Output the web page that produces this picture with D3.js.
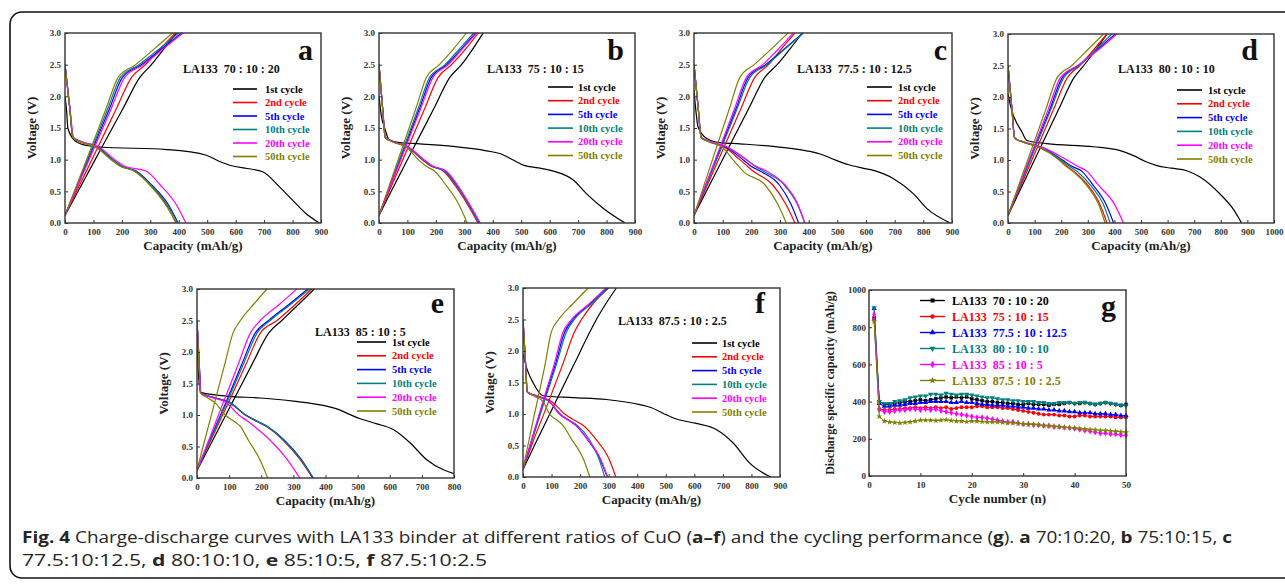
<!DOCTYPE html>
<html><head><meta charset="utf-8">
<script src="https://cdn.jsdelivr.net/npm/d3@7"></script>
<style>
body{margin:0;background:#fff}
svg{display:block}
</style>
</head><body>
<svg id="c" width="1285" height="586"></svg>
<script>
// ---------------- DATA ----------------
const cycleNames = ["1st cycle","2nd cycle","5th cycle","10th cycle","20th cycle","50th cycle"];
const cycleColors = ["#000000","#ff0000","#0000ff","#008080","#ff00ff","#808000"];
const voltTicks = [0,0.5,1.0,1.5,2.0,2.5,3.0];
// voltage levels at which capacities were read
const chargeLevels = [0.12,0.5,1.2,1.8,2.3,2.5,2.75,3.0];
const dischargeLevels = [2.5,1.8,1.35,1.28,1.2,1.0,0.9,0.82,0.6,0.3,0.0];

// panel a : 70:10:20
const firstDisA = [[0,2.0],[6,1.75],[10,1.5],[35,1.3],[80,1.22],[125,1.2],[357,1.16],[497,1.07],[540,0.98],[590,0.9],[640,0.86],[695,0.81],[754,0.57],[800,0.36],[847,0.15],[894,0.0]];
const disA = [ // 2nd,5th,10th,20th,50th : capacity at dischargeLevels
  [0,17,28,55,110,165,195,245,300,355,390],
  [0,17,28,60,115,168,198,250,305,362,398],
  [0,17,28,58,112,166,196,248,302,358,396],
  [0,18,30,62,120,175,208,285,335,390,425],
  [0,17,28,55,108,162,192,242,298,352,392]];
const chgA = [ // 1st..50th : capacity at chargeLevels
  [0,46,130,203,263,304,348,392],
  [0,41,116,180,234,283,335,388],
  [0,35,100,156,202,268,340,410],
  [0,34,97,150,195,260,332,400],
  [0,37,104,162,210,275,345,415],
  [0,33,93,144,187,248,314,378]];

// panel b : 75:10:15
const firstDisB = [[0,2.0],[8,1.7],[20,1.5],[35,1.32],[73,1.27],[143,1.25],[260,1.21],[378,1.14],[430,1.09],[470,1.0],[510,0.91],[560,0.87],[613,0.82],[683,0.68],[730,0.46],[789,0.23],[865,0.0]];
const disB = [
  [0,13,22,50,100,152,182,226,266,310,348],
  [0,13,22,52,102,156,186,232,272,315,352],
  [0,13,22,52,101,155,185,230,270,314,350],
  [0,13,22,54,104,158,188,236,276,318,356],
  [0,13,22,48,96,138,165,195,235,280,310]];
const chgB = [
  [0,43,123,192,249,290,330,366],
  [0,36,103,160,208,255,305,349],
  [0,32,91,142,184,238,290,340],
  [0,31,88,137,178,232,283,333],
  [0,33,94,146,190,244,293,343],
  [0,29,83,129,167,212,262,307]];

// panel c : 77.5:10:12.5
const firstDisC = [[0,2.1],[6,1.8],[14,1.52],[43,1.34],[90,1.27],[160,1.25],[276,1.21],[393,1.14],[440,1.09],[490,1.0],[540,0.92],[585,0.87],[626,0.83],[696,0.7],[766,0.46],[812,0.23],[894,0.0]];
const disC = [
  [0,15,25,55,105,160,185,206,275,320,352],
  [0,15,25,58,110,171,198,230,298,338,365],
  [0,15,25,60,115,183,212,241,315,360,387],
  [0,15,25,60,116,183,214,253,318,362,386],
  [0,15,25,52,98,136,155,171,248,292,322]];
const chgC = [
  [0,43,122,190,247,290,335,378],
  [0,37,105,163,212,260,305,352],
  [0,33,94,146,189,250,315,380],
  [0,34,97,150,195,255,318,382],
  [0,32,91,141,183,240,295,346],
  [0,28,79,123,160,210,270,328]];

// panel d : 80:10:10
const firstDisD = [[0,2.05],[10,1.85],[53,1.44],[71,1.31],[146,1.26],[322,1.21],[422,1.15],[472,1.07],[515,0.98],[560,0.91],[615,0.87],[672,0.83],[722,0.73],[797,0.46],[847,0.22],[878,0.0]];
const disD = [
  [0,15,25,60,120,196,222,247,300,345,372],
  [0,15,25,62,125,205,240,278,320,368,397],
  [0,15,25,62,122,200,232,259,310,358,384],
  [0,15,25,65,130,221,262,297,340,400,434],
  [0,15,25,60,118,192,218,244,295,340,365]];
const chgD = [
  [0,43,122,190,247,285,330,372],
  [0,39,110,171,222,270,322,372],
  [0,35,100,157,203,265,335,403],
  [0,36,103,161,209,268,330,390],
  [0,34,97,151,196,262,340,409],
  [0,32,91,142,184,240,300,359]];

// panel e : 85:10:5
const firstDisE = [[0,2.2],[5,1.6],[12,1.36],[93,1.3],[197,1.27],[300,1.22],[404,1.14],[440,1.09],[475,1.01],[508,0.94],[560,0.86],[611,0.77],[663,0.56],[715,0.29],[767,0.13],[800,0.07]];
const disE = [
  [0,7,12,50,100,150,185,215,268,320,360],
  [0,7,12,50,102,152,188,218,272,324,362],
  [0,7,12,50,101,151,187,217,270,322,362],
  [0,7,12,45,90,130,158,178,228,280,320],
  [0,6,10,30,55,88,115,135,160,195,220]];
const chgE = [
  [0,39,110,171,223,264,315,365],
  [0,34,98,152,197,249,305,357],
  [0,31,90,139,181,223,285,345],
  [0,32,93,144,187,228,290,350],
  [0,29,82,128,166,197,255,311],
  [0,19,55,86,112,135,175,218]];

// panel f : 87.5:10:2.5
const firstDisF = [[0,1.95],[15,1.7],[35,1.5],[70,1.29],[175,1.26],[292,1.23],[409,1.15],[450,1.1],[495,1.0],[537,0.92],[607,0.85],[678,0.75],[736,0.54],[794,0.22],[866,0.0]];
const disF = [
  [0,9,15,55,100,146,180,210,255,300,325],
  [0,9,15,50,92,128,160,185,225,268,295],
  [0,9,15,50,92,130,162,190,232,265,286],
  [0,9,15,50,92,128,160,186,225,270,296],
  [0,9,15,40,70,93,120,140,170,210,234]];
const chgF = [
  [0,40,115,180,234,257,290,327],
  [0,30,90,140,180,205,245,300],
  [0,25,72,114,146,175,235,295],
  [0,26,75,118,152,180,240,298],
  [0,24,70,110,140,170,232,290],
  [0,17,50,78,99,125,175,228]];

// panel g : cycling performance (cycle 1..50)
const ratioNames = ["LA133  70 : 10 : 20","LA133  75 : 10 : 15","LA133  77.5 : 10 : 12.5","LA133  80 : 10 : 10","LA133  85 : 10 : 5","LA133  87.5 : 10 : 2.5"];
const cap70 = [850,400,385,385,390,395,400,400,405,410,405,410,415,420,425,420,425,420,425,415,410,405,400,400,395,395,390,390,385,385,390,385,385,385,380,385,385,390,395,390,390,395,390,385,390,395,390,385,380,385];
const cap75 = [840,360,355,355,360,360,365,365,370,365,370,365,370,365,370,360,365,370,370,370,375,375,370,370,370,365,365,360,355,350,345,340,335,330,330,330,325,325,320,320,325,325,320,320,320,320,320,315,315,315];
const cap775 = [900,390,375,375,380,380,385,390,390,395,395,400,400,400,400,395,395,400,395,395,390,385,385,380,380,380,375,375,370,370,365,365,360,360,355,355,350,350,345,345,340,340,340,335,335,335,330,330,325,325];
const cap80 = [905,400,390,390,400,405,410,420,425,430,430,440,440,435,445,440,435,440,440,435,430,425,420,420,415,410,410,405,405,400,400,400,395,395,390,390,395,395,395,390,395,395,390,385,390,395,390,385,380,378];
const cap85 = [870,355,345,345,350,355,355,360,360,355,360,355,360,350,345,340,335,330,325,320,315,315,310,305,300,295,290,290,285,280,280,275,275,270,270,265,265,260,260,255,250,245,240,235,230,230,225,225,220,218];
const cap875 = [830,320,295,290,288,285,288,290,295,300,300,300,298,300,302,298,295,295,292,295,295,292,290,290,290,288,285,285,282,280,278,278,275,272,270,268,265,262,260,258,255,252,250,248,245,245,242,240,238,235];
const gSeries = [cap70,cap75,cap775,cap80,cap85,cap875];
const gTicksX = [0,10,20,30,40,50];
const gTicksY = [0,200,400,600,800,1000];

// ---------------- LAYOUT ----------------
const SERIF = '"Liberation Serif","Times New Roman",serif';
const svg = d3.select('#c');

svg.append('rect').attr('x',10).attr('y',12).attr('width',1300).attr('height',566)
  .attr('rx',12).attr('fill','none').attr('stroke','#111').attr('stroke-width',1.6);

const panels = [
  {id:'a',x0:65,x1:321,y0:33,y1:223,xmax:900,title:'LA133  70 : 10 : 20',tx:183,ty:73,lx0:233,lx1:257,ltx:265,ly:89,ls:13.5,lab:313,laby:60,first:firstDisA,dis:disA,chg:chgA},
  {id:'b',x0:379,x1:635,y0:33,y1:223,xmax:900,title:'LA133  75 : 10 : 15',tx:487,ty:73,lx0:548,lx1:573,ltx:578,ly:87,ls:13.7,lab:624,laby:60,first:firstDisB,dis:disB,chg:chgB},
  {id:'c',x0:694,x1:952,y0:33,y1:223,xmax:900,title:'LA133  77.5 : 10 : 12.5',tx:797,ty:73,lx0:867,lx1:892,ltx:898,ly:87,ls:13.7,lab:947,laby:60,first:firstDisC,dis:disC,chg:chgC},
  {id:'d',x0:1008,x1:1274,y0:34,y1:223,xmax:1000,title:'LA133  80 : 10 : 10',tx:1118,ty:73,lx0:1177,lx1:1202,ltx:1208,ly:90,ls:13.8,lab:1258,laby:60,first:firstDisD,dis:disD,chg:chgD},
  {id:'e',x0:197,x1:454,y0:289,y1:478,xmax:800,title:'LA133  85 : 10 : 5',tx:315,ty:336,lx0:357,lx1:386,ltx:392,ly:342,ls:13.8,lab:444,laby:313,first:firstDisE,dis:disE,chg:chgE},
  {id:'f',x0:523,x1:780,y0:288,y1:477,xmax:900,title:'LA133  87.5 : 10 : 2.5',tx:618,ty:325,lx0:692,lx1:717,ltx:722,ly:343,ls:13.8,lab:765,laby:313,first:firstDisF,dis:disF,chg:chgF}
];

function styleAxis(g){
  g.attr('font-family',SERIF).attr('font-size',9).attr('font-weight','bold');
  g.select('.domain').remove();
  g.selectAll('.tick line').attr('stroke','#333').attr('stroke-width',1);
  g.selectAll('.tick text').attr('fill','#333');
}

function frame(p){
  svg.append('rect').attr('x',p.x0).attr('y',p.y0).attr('width',p.x1-p.x0).attr('height',p.y1-p.y0)
    .attr('fill','none').attr('stroke','#333').attr('stroke-width',1.4);
}

panels.forEach((p,pi)=>{
  const x = d3.scaleLinear().domain([0,p.xmax]).range([p.x0,p.x1]);
  const y = d3.scaleLinear().domain([0,3]).range([p.y1,p.y0]);
  const clipId = 'clip'+p.id;
  svg.append('clipPath').attr('id',clipId).append('rect')
    .attr('x',p.x0).attr('y',p.y0-1).attr('width',p.x1-p.x0).attr('height',p.y1-p.y0+1);
  const line = d3.line().x(d=>x(d[0])).y(d=>y(d[1])).curve(d3.curveMonotoneX);
  const gl = svg.append('g').attr('clip-path',`url(#${clipId})`);
  for(let i=0;i<6;i++){
    const chgPts = chargeLevels.map((v,j)=>[p.chg[i][j],v]);
    const disPts = i===0 ? p.first : dischargeLevels.map((v,j)=>[p.dis[i-1][j],v]);
    [chgPts,disPts].forEach(pts=>{
      gl.append('path').attr('d',line(pts)).attr('fill','none')
        .attr('stroke',cycleColors[i]).attr('stroke-width',1.2);
    });
  }
  frame(p);
  const xt = d3.range(0,p.xmax+1,100);
  svg.append('g').attr('transform',`translate(0,${p.y1})`)
    .call(d3.axisBottom(x).tickValues(xt).tickSizeInner(-3).tickSizeOuter(0).tickPadding(6).tickFormat(d3.format('d')))
    .call(styleAxis);
  svg.append('g').attr('transform',`translate(${p.x0},0)`)
    .call(d3.axisLeft(y).tickValues(voltTicks).tickSizeInner(-3).tickSizeOuter(0).tickPadding(4).tickFormat(d3.format('.1f')))
    .call(styleAxis);
  svg.append('text').attr('x',(p.x0+p.x1)/2).attr('y',p.y1+27).attr('text-anchor','middle')
    .attr('font-family',SERIF).attr('font-weight','bold').attr('font-size',13).attr('fill','#222')
    .text('Capacity (mAh/g)');
  svg.append('text').attr('transform',`translate(${p.x0-29},${(p.y0+p.y1)/2}) rotate(-90)`)
    .attr('text-anchor','middle').attr('font-family',SERIF).attr('font-weight','bold').attr('font-size',13).attr('fill','#222')
    .text('Voltage (V)');
  svg.append('text').attr('x',p.tx).attr('y',p.ty).attr('font-family',SERIF).attr('font-weight','bold')
    .attr('font-size',12).attr('fill','#111').style('white-space','pre').text(p.title);
  svg.append('text').attr('x',p.lab).attr('y',p.laby).attr('text-anchor','end').attr('font-family',SERIF)
    .attr('font-weight','bold').attr('font-size',30).attr('fill','#111').text(p.id);
  cycleNames.forEach((n,i)=>{
    const yy = p.ly + i*p.ls;
    svg.append('line').attr('x1',p.lx0).attr('x2',p.lx1).attr('y1',yy).attr('y2',yy)
      .attr('stroke',cycleColors[i]).attr('stroke-width',1.6);
    svg.append('text').attr('x',p.ltx).attr('y',yy).attr('dy','0.35em').attr('font-family',SERIF)
      .attr('font-weight','bold').attr('font-size',10.5).attr('fill',cycleColors[i]).text(n);
  });
});

// ---------------- PANEL g ----------------
(function(){
  const p = {x0:869,x1:1126,y0:290,y1:476};
  const x = d3.scaleLinear().domain([0,50]).range([p.x0,p.x1]);
  const y = d3.scaleLinear().domain([0,1000]).range([p.y1,p.y0]);
  const symbols = [d3.symbolSquare,d3.symbolCircle,d3.symbolTriangle,d3.symbolTriangle,d3.symbolDiamond,d3.symbolStar];
  const rot = [0,0,0,180,0,0];
  const line = d3.line().x((d,i)=>x(i+1)).y(d=>y(d));
  gSeries.forEach((s,k)=>{
    svg.append('path').attr('d',line(s)).attr('fill','none').attr('stroke',cycleColors[k]).attr('stroke-width',1);
    const sym = d3.symbol().type(symbols[k]).size(12);
    svg.append('g').selectAll('path').data(s).join('path')
      .attr('transform',(d,i)=>`translate(${x(i+1)},${y(d)}) rotate(${rot[k]})`)
      .attr('d',sym).attr('fill',cycleColors[k]);
  });
  frame(p);
  svg.append('g').attr('transform',`translate(0,${p.y1})`)
    .call(d3.axisBottom(x).tickValues(gTicksX).tickSizeInner(-3).tickSizeOuter(0).tickPadding(6))
    .call(styleAxis);
  svg.append('g').attr('transform',`translate(${p.x0},0)`)
    .call(d3.axisLeft(y).tickValues(gTicksY).tickSizeInner(-3).tickSizeOuter(0).tickPadding(3).tickFormat(d3.format('d')))
    .call(styleAxis);
  svg.append('text').attr('x',(p.x0+p.x1)/2).attr('y',p.y1+27).attr('text-anchor','middle')
    .attr('font-family',SERIF).attr('font-weight','bold').attr('font-size',13).attr('fill','#222')
    .text('Cycle number (n)');
  svg.append('text').attr('transform',`translate(${p.x0-35},${(p.y0+p.y1)/2}) rotate(-90)`)
    .attr('text-anchor','middle').attr('font-family',SERIF).attr('font-weight','bold').attr('font-size',12).attr('fill','#222')
    .text('Discharge specific capacity (mAh/g)');
  svg.append('text').attr('x',1116).attr('y',316).attr('text-anchor','end').attr('font-family',SERIF)
    .attr('font-weight','bold').attr('font-size',30).attr('fill','#111').text('g');
  ratioNames.forEach((n,k)=>{
    const yy = 300.5 + k*16;
    svg.append('line').attr('x1',920).attr('x2',945).attr('y1',yy).attr('y2',yy)
      .attr('stroke',cycleColors[k]).attr('stroke-width',1.4);
    svg.append('path').attr('transform',`translate(932.5,${yy}) rotate(${rot[k]})`)
      .attr('d',d3.symbol().type(symbols[k]).size(16)).attr('fill',cycleColors[k]);
    svg.append('text').attr('x',952).attr('y',yy).attr('dy','0.35em').attr('font-family',SERIF)
      .attr('font-weight','bold').attr('font-size',12).attr('fill',cycleColors[k])
      .style('white-space','pre').text(n);
  });
})();

// ---------------- CAPTION ----------------
const SANS = '"Open Sans","Liberation Sans",sans-serif';
const cap1 = [["Fig. 4",1],[" Charge-discharge curves with LA133 binder at different ratios of CuO (",0],["a–f",1],[") and the cycling performance (",0],["g",1],["). ",0],["a",1],[" 70:10:20, ",0],["b",1],[" 75:10:15, ",0],["c",1]];
const cap2 = [["77.5:10:12.5, ",0],["d",1],[" 80:10:10, ",0],["e",1],[" 85:10:5, ",0],["f",1],[" 87.5:10:2.5",0]];
[[cap1,543,1210],[cap2,566,465]].forEach(([parts,yy,len])=>{
  const t = svg.append('text').attr('x',22).attr('y',yy).attr('font-family',SANS).attr('font-size',16.5)
    .attr('fill','#262626').attr('textLength',len).attr('lengthAdjust','spacingAndGlyphs').style('white-space','pre');
  parts.forEach(([s,b])=>t.append('tspan').attr('font-weight',b?'bold':'normal').text(s));
});
</script>
</body></html>
